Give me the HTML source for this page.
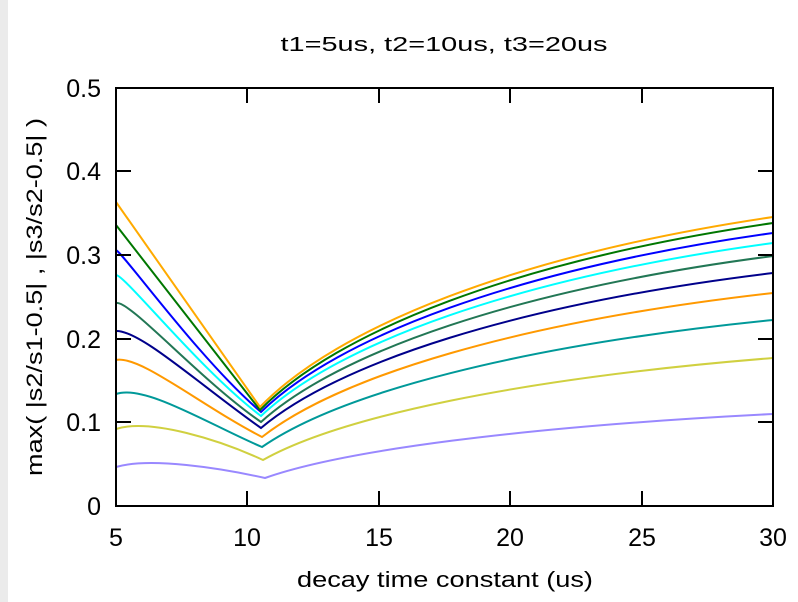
<!DOCTYPE html>
<html><head><meta charset="utf-8"><style>
body{margin:0;background:#fff;}
svg{display:block;font-family:"Liberation Sans",Arial,sans-serif;}
</style></head><body>
<svg width="798" height="602" viewBox="0 0 798 602">
<rect x="0" y="0" width="798" height="602" fill="#fff"/>
<rect x="0" y="0" width="8" height="602" fill="#ebebeb"/>
<text x="444" y="51" font-size="20" text-anchor="middle" fill="#000" textLength="327" lengthAdjust="spacingAndGlyphs">t1=5us, t2=10us, t3=20us</text>
<g fill="none" stroke-width="2">
<path d="M116,331 C140,330 200,385 261,428 C338,363 517,304 773,273" stroke="#00008b"/>
<path d="M116,360 C140,355 200,405 262,437 C339,376.5 518,321.8 773,293" stroke="#ff9900"/>
<path d="M116,394 C145,384 210,425 262,447 C339,393.7 518,345.4 773,320" stroke="#009999"/>
<path d="M116,429 C150,418 220,440 263,460 C339,417.2 518,378.4 773,358" stroke="#d0d040"/>
<path d="M116,467 C150,457 220,468 265,478 C341,451 519,426.8 773,414" stroke="#9988ff"/>
<path d="M116,303 C130,300 200,380 261,422 C338,352.3 517,289.2 773,256" stroke="#227755"/>
<path d="M116,275 C125,275 200,370 261,416 C338,343.3 517,277.6 773,243" stroke="#00ffff"/>
<path d="M116,250 C125,255 200,360 261,412 C338,336.8 517,268.8 773,233" stroke="#0000ff"/>
<path d="M116,225 L260,410 C337,331.5 516,260.4 773,223" stroke="#007700"/>
<path d="M116,202 L260,407 C337,327.2 516,255 773,217" stroke="#ffaa00"/>
</g>
<rect x="116" y="88" width="657" height="418" fill="none" stroke="#000" stroke-width="2"/>
<g stroke="#000" stroke-width="2">
<line x1="116" y1="422" x2="131" y2="422"/><line x1="773" y1="422" x2="758" y2="422"/>
<line x1="116" y1="339" x2="131" y2="339"/><line x1="773" y1="339" x2="758" y2="339"/>
<line x1="116" y1="255" x2="131" y2="255"/><line x1="773" y1="255" x2="758" y2="255"/>
<line x1="116" y1="171" x2="131" y2="171"/><line x1="773" y1="171" x2="758" y2="171"/>
<line x1="247" y1="506" x2="247" y2="491"/><line x1="247" y1="88" x2="247" y2="103"/>
<line x1="379" y1="506" x2="379" y2="491"/><line x1="379" y1="88" x2="379" y2="103"/>
<line x1="510" y1="506" x2="510" y2="491"/><line x1="510" y1="88" x2="510" y2="103"/>
<line x1="642" y1="506" x2="642" y2="491"/><line x1="642" y1="88" x2="642" y2="103"/>
</g>
<g font-size="25" fill="#000" text-anchor="end">
<text x="101" y="515">0</text>
<text x="101" y="431">0.1</text>
<text x="101" y="348">0.2</text>
<text x="101" y="264">0.3</text>
<text x="101" y="180">0.4</text>
<text x="101" y="97">0.5</text>
</g>
<g font-size="25" fill="#000" text-anchor="middle">
<text x="116" y="546">5</text>
<text x="247" y="546">10</text>
<text x="379" y="546">15</text>
<text x="510" y="546">20</text>
<text x="642" y="546">25</text>
<text x="773" y="546">30</text>
</g>
<text x="445" y="587" font-size="22" text-anchor="middle" fill="#000" textLength="296" lengthAdjust="spacingAndGlyphs">decay time constant (us)</text>
<text transform="translate(42,297) rotate(-90)" font-size="22" text-anchor="middle" fill="#000" textLength="358" lengthAdjust="spacingAndGlyphs">max( |s2/s1-0.5| , |s3/s2-0.5| )</text>
</svg>
</body></html>
